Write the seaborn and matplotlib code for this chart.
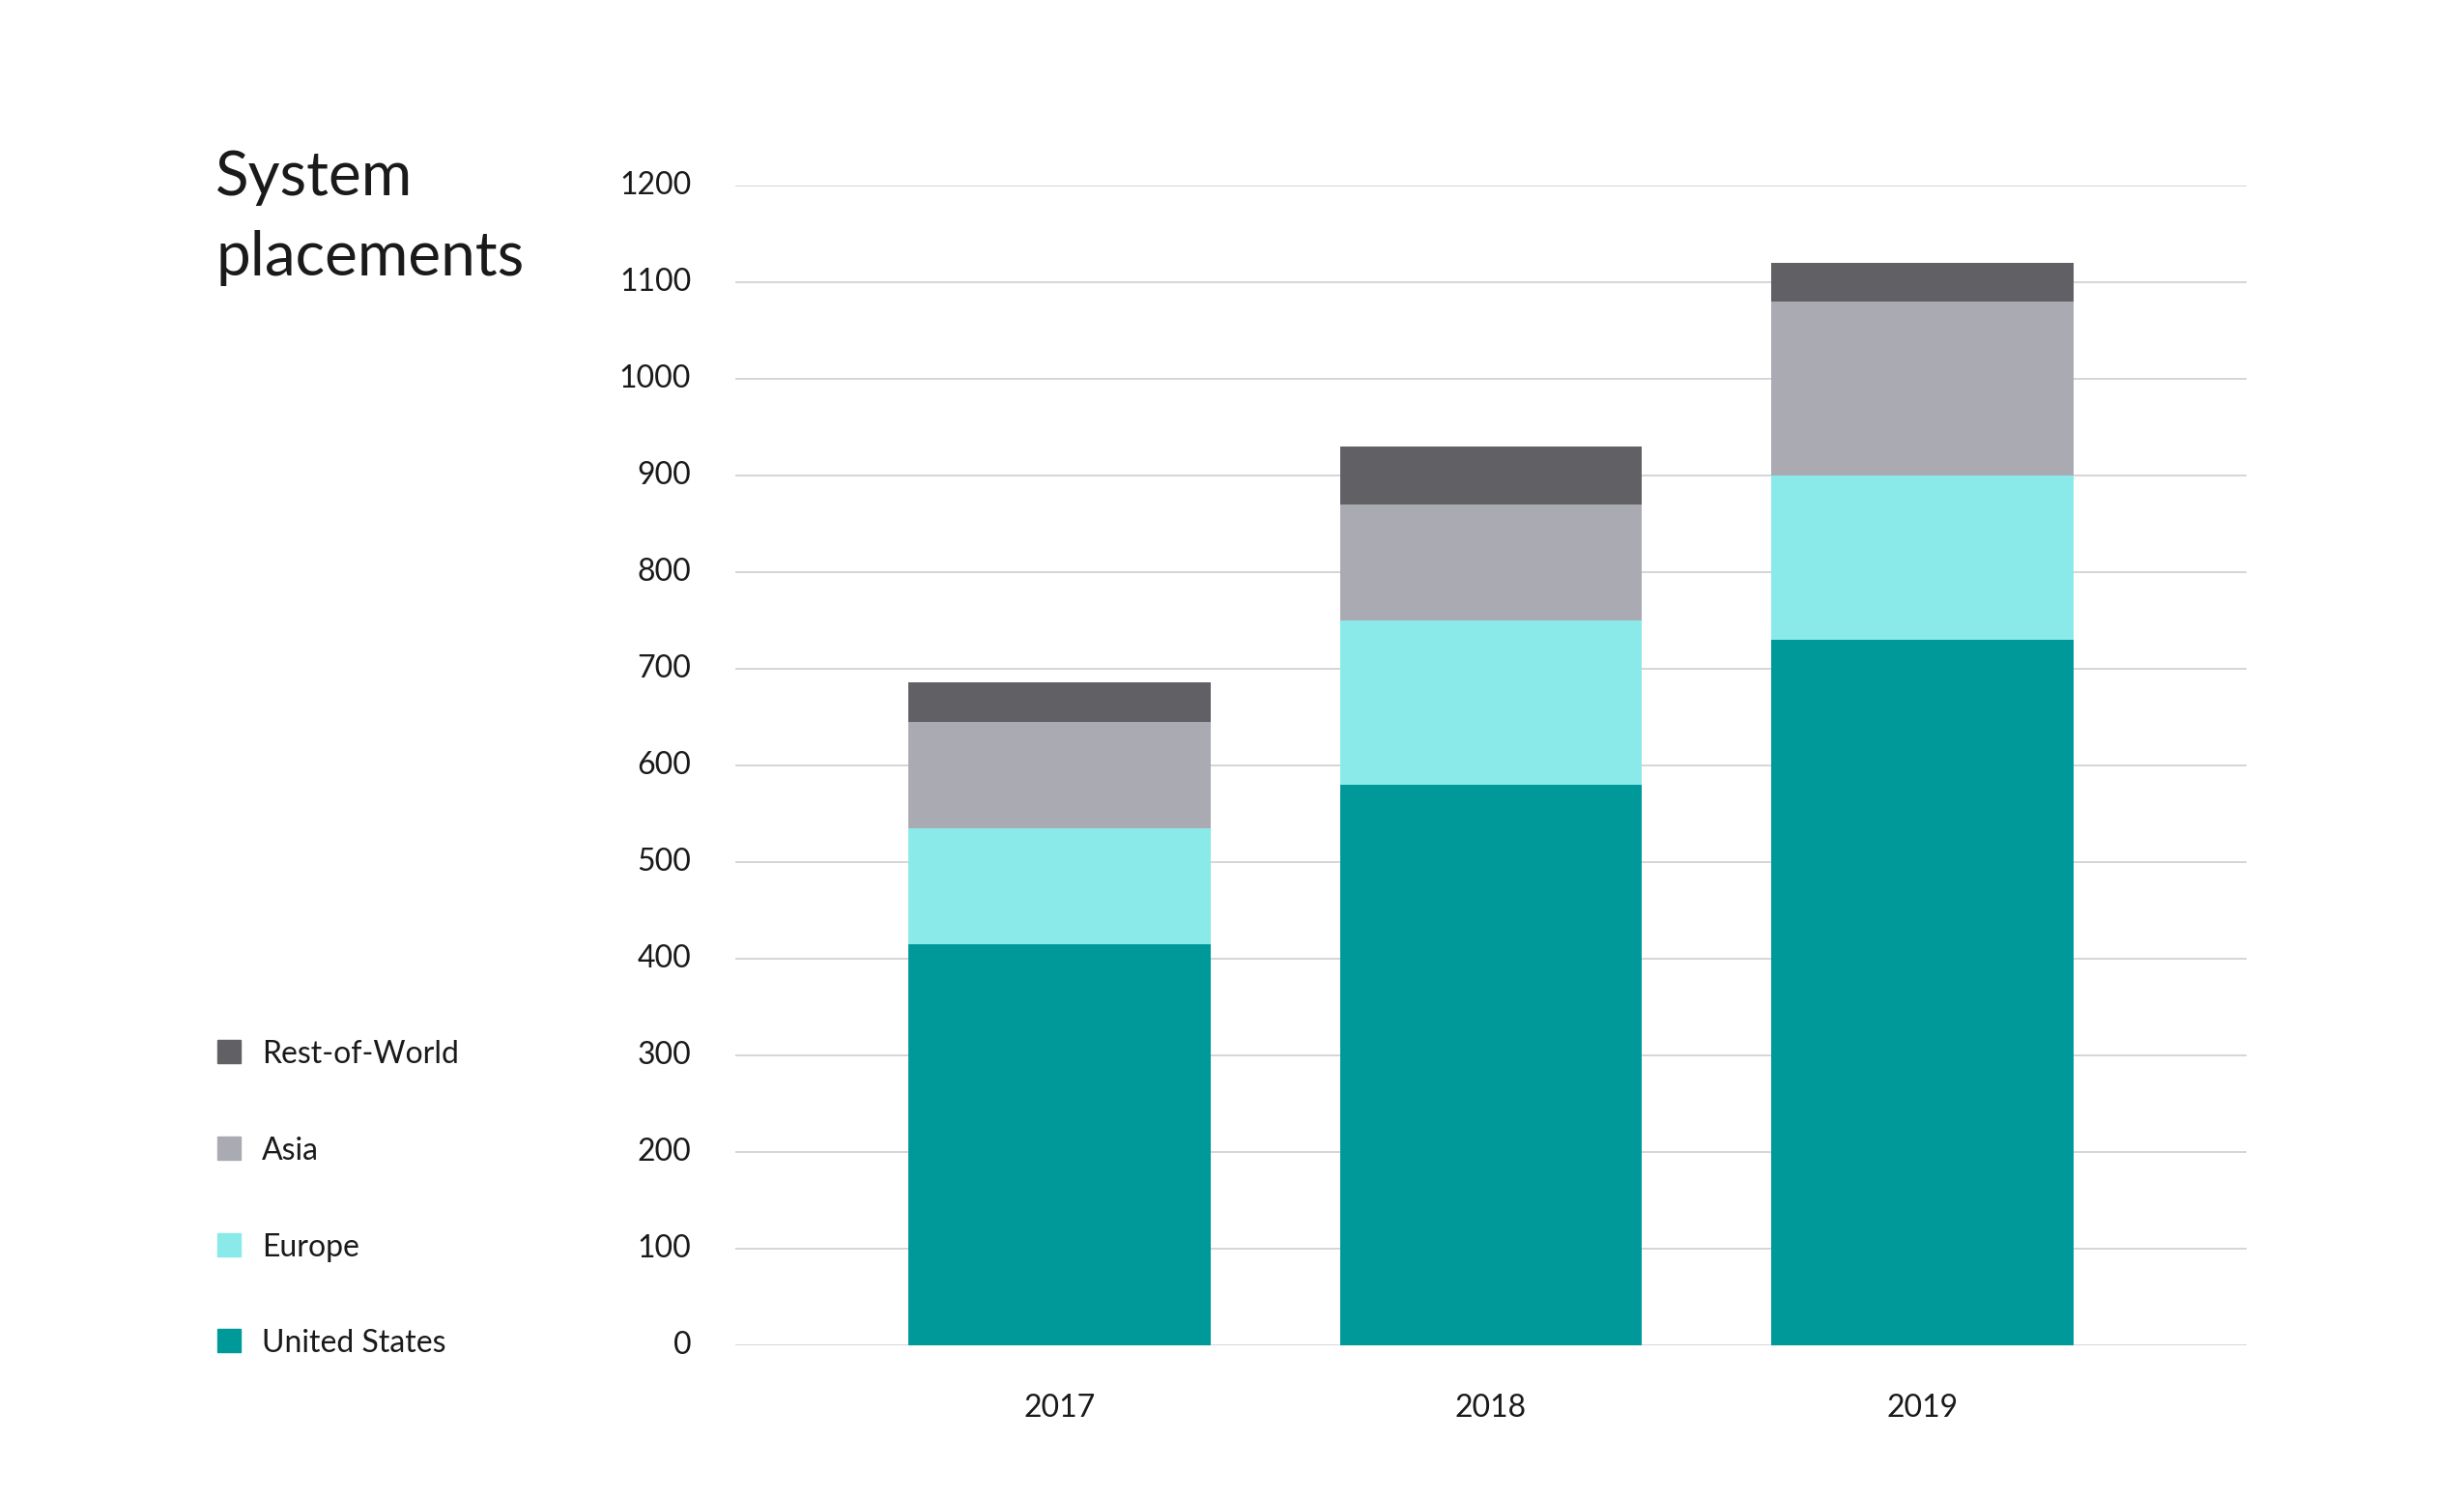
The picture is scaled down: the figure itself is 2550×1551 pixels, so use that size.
import matplotlib
matplotlib.use("Agg")
import matplotlib.pyplot as plt
from matplotlib.patches import Rectangle
import pandas as pd
import seaborn as sns

years = ["2017", "2018", "2019"]
united_states = [415, 580, 730]
europe = [120, 170, 170]
asia = [110, 120, 180]
rest_of_world = [41, 60, 40]

regions = ["United States", "Europe", "Asia", "Rest-of-World"]
colors = ["#00999a", "#8aeaea", "#aaaab2", "#606065"]
yticks = [0, 100, 200, 300, 400, 500, 600, 700, 800, 900, 1000, 1100, 1200]

df = pd.DataFrame({"year": years, "United States": united_states, "Europe": europe,
                   "Asia": asia, "Rest-of-World": rest_of_world})
# cumulative tops for stacking
cum = df[regions].cumsum(axis=1)
cum["year"] = df["year"]

sns.set_style("white")
plt.rcParams["font.family"] = ["Lato", "DejaVu Sans"]
txt = "#1a1a1a"

fig = plt.figure(figsize=(25.5, 15.51), dpi=100)
ax = fig.add_axes([761/2550, 1 - 1391.7/1551, (2325-761)/2550, 1200/1551])

# draw from the top layer down so each lower layer covers the one above
for reg, col in reversed(list(zip(regions, colors))):
    sns.barplot(data=cum, x="year", y=reg, order=years, color=col, width=0.7,
                saturation=1, linewidth=0, ax=ax, zorder=3)

ax.set_xlim(-0.75, 2.75)
ax.set_ylim(0, 1200)
ax.set_yticks(yticks)
ax.set_yticklabels([str(t) for t in yticks])
ax.set_xticks(range(len(years)))
ax.set_xticklabels(years)
ax.yaxis.grid(True, color="#d2d2d6", linewidth=1.3, zorder=0)
ax.xaxis.grid(False)
ax.set_axisbelow(True)
for s in ax.spines.values():
    s.set_visible(False)
ax.set_xlabel("")
ax.set_ylabel("")
ax.tick_params(axis="y", length=0, pad=33, labelsize=23, labelcolor=txt)
ax.tick_params(axis="x", length=0, pad=36, labelsize=23, labelcolor=txt)
for lab in ax.get_yticklabels():
    lab.set_verticalalignment("center")

fig.text(223/2550, 1 - 202/1551, "System", fontsize=46, color=txt,
         va="baseline", ha="left")
fig.text(223/2550, 1 - 285/1551, "placements", fontsize=46, color=txt,
         va="baseline", ha="left")

# legend
leg_base = [1399, 1300, 1200, 1100]
for reg, col, yy in zip(regions, colors, leg_base):
    fig.add_artist(Rectangle((225/2550, 1 - yy/1551), 24/2550, 24/1551,
                             transform=fig.transFigure, color=col))
    fig.text(271/2550, 1 - yy/1551, reg, fontsize=23, color=txt,
             va="baseline", ha="left")

fig.savefig("out.png", dpi=100, facecolor="white")
